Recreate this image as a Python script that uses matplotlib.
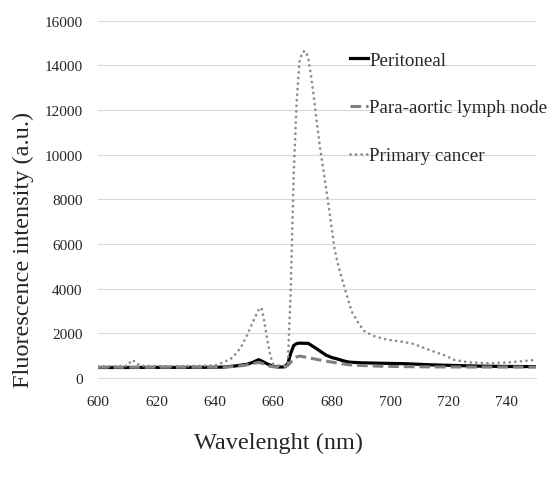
import matplotlib
matplotlib.use("Agg")
import matplotlib.pyplot as plt

# wavelength (nm) / fluorescence intensity (a.u.)
wl_peritoneal = [600, 610, 620, 630, 640, 643, 647, 651, 653, 655, 657, 658, 660, 662, 664,
                 665, 666, 667, 668, 669, 672, 675, 678, 680, 682, 684, 686, 690, 697, 705,
                 714, 722, 731, 740, 750]
peritoneal = [470, 470, 475, 475, 480, 490, 540, 610, 700, 820, 700, 630, 520, 490, 500,
              650, 1100, 1450, 1540, 1560, 1550, 1300, 1030, 920, 850, 770, 710, 680, 660, 640,
              590, 560, 530, 515, 510]

wl_paraaortic = [600, 620, 640, 645, 650, 653, 655, 657, 659, 662, 664, 665, 666, 667, 668,
                 669, 670, 673, 677, 682, 686, 690, 697, 710, 725, 750]
paraaortic = [480, 480, 485, 500, 560, 640, 700, 620, 520, 480, 500, 560, 700, 850, 940,
              980, 960, 880, 780, 670, 590, 560, 525, 500, 490, 490]

wl_primary = [600, 605, 610, 611, 612, 613, 615, 620, 630, 640, 643, 646, 649, 651, 653,
              655, 656, 657, 658, 659, 660, 662, 664, 665, 666, 667, 668, 669, 670, 671,
              672, 673, 674, 675, 676, 677, 678, 679, 680, 681, 682, 683, 684, 685, 686,
              687, 689, 691, 694, 697, 700, 704, 708, 711, 714, 719, 722, 727, 734, 741, 750]
primary = [520, 520, 540, 700, 810, 650, 540, 530, 530, 560, 700, 900, 1380, 1900, 2500,
           3050, 3150, 2500, 1700, 1000, 640, 560, 560, 620, 3900, 9050, 12300, 14170, 14600, 14650,
           14350, 13500, 12500, 11400, 10350, 9500, 8600, 7700, 6750, 5800, 5200, 4700, 4250, 3800, 3350,
           2950, 2500, 2120, 1900, 1780, 1700, 1630, 1530, 1380, 1230, 1000, 810, 700, 660, 700, 810]

plt.rcParams["font.family"] = ["Liberation Serif", "DejaVu Serif"]
TXT = "#262626"
GRID = "#d9d9d9"

fig = plt.figure(figsize=(5.52, 4.85), dpi=100)
ax = fig.add_axes([0.1775, 0.2186, 0.7935, 0.7364])

ax.plot(wl_peritoneal, peritoneal, color="black", lw=2.3, label="Peritoneal", zorder=3)
ax.plot(wl_paraaortic, paraaortic, color="#808080", lw=2.2, linestyle=(0, (3.5, 1.6)),
        label="Para-aortic lymph node", zorder=4)
ax.plot(wl_primary, primary, color="#8c8c8c", lw=2.0, linestyle=(0, (0.01, 2.0)),
        dash_capstyle="round", label="Primary cancer", zorder=5)

ax.set_xlim(600, 750)
ax.set_ylim(0, 16000)
ax.set_xticks(range(600, 751, 20))
ax.set_yticks(range(0, 16001, 2000))
ax.yaxis.grid(True, color=GRID, lw=0.8)
ax.set_axisbelow(True)
for s in ("top", "right", "left"):
    ax.spines[s].set_visible(False)
ax.spines["bottom"].set_color(GRID)
ax.spines["bottom"].set_linewidth(0.8)
ax.tick_params(axis="both", length=0, labelsize=11, colors=TXT)
ax.tick_params(axis="x", pad=12)
ax.tick_params(axis="y", pad=11)

fig.text(0.042, 0.485, "Fluorescence intensity (a.u.)", rotation=90, ha="center", va="center",
         fontsize=17.5, color=TXT)
fig.text(0.504, 0.085, "Wavelenght (nm)", ha="center", va="center", fontsize=17.5, color=TXT)

leg = fig.legend(loc="upper left", bbox_to_anchor=(0.634, 0.892), frameon=False,
                 fontsize=13.7, handlelength=0.95, handletextpad=0.05, borderpad=0,
                 borderaxespad=0, labelspacing=1.6)
for t in leg.get_texts():
    t.set_color(TXT)

fig.savefig("out.png", dpi=100, facecolor="white")
